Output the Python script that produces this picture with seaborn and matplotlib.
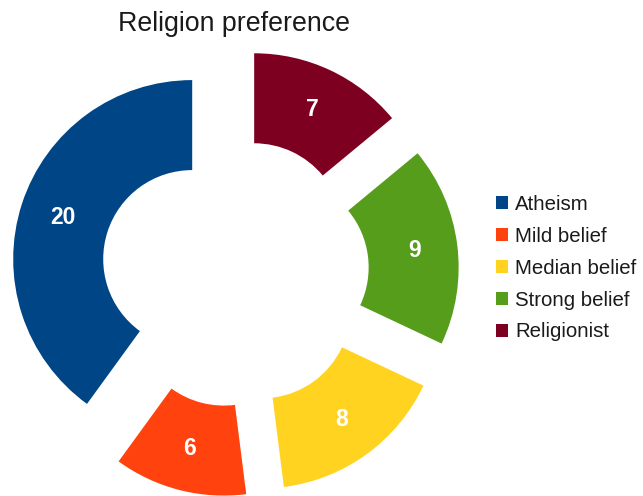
import matplotlib
matplotlib.use("Agg")
import matplotlib.pyplot as plt
import seaborn as sns

# Survey counts per category
categories = ["Atheism", "Mild belief", "Median belief", "Strong belief", "Religionist"]
counts = [20, 6, 8, 9, 7]
palette_hex = ["#004586", "#ff420e", "#ffd320", "#579d1c", "#7e0021"]
title = "Religion preference"

sns.set_theme(style="white")
plt.rcParams["font.family"] = ["Liberation Sans", "DejaVu Sans"]

W, H = 643, 496
fig = plt.figure(figsize=(W / 100, H / 100), dpi=100)
ax = fig.add_axes([0, 0, 1, 1])

colors = sns.color_palette(palette_hex)
outer_r = 179
ring_w = 90
offset = 45

total = sum(counts)


def fmt(pct):
    return f"{int(round(pct * total / 100.0))}"


wedges, _, autotexts = ax.pie(
    counts,
    colors=colors,
    startangle=90,
    counterclock=True,
    radius=outer_r,
    center=(235, 223),
    explode=[offset] * len(counts),
    wedgeprops=dict(width=ring_w, linewidth=0),
    autopct=fmt,
    pctdistance=0.76,
    textprops=dict(color="white", fontsize=16.5, fontweight="bold"),
)

ax.set_xlim(0, W)
ax.set_ylim(0, H)
ax.set_aspect("auto")
ax.axis("off")

fig.text(234 / W, (H - 31) / H, title, ha="center", va="baseline",
         fontsize=19.3, color="#1a1a1a")

leg = fig.legend(
    wedges, categories,
    loc="upper left",
    bbox_to_anchor=(496 / W, (H - 195) / H),
    frameon=False,
    fontsize=14.7,
    handlelength=0.6,
    handleheight=0.6,
    handletextpad=0.35,
    labelspacing=0.63,
    borderpad=0,
    borderaxespad=0,
)
for t in leg.get_texts():
    t.set_color("#1a1a1a")

fig.savefig("out.png", dpi=100)
